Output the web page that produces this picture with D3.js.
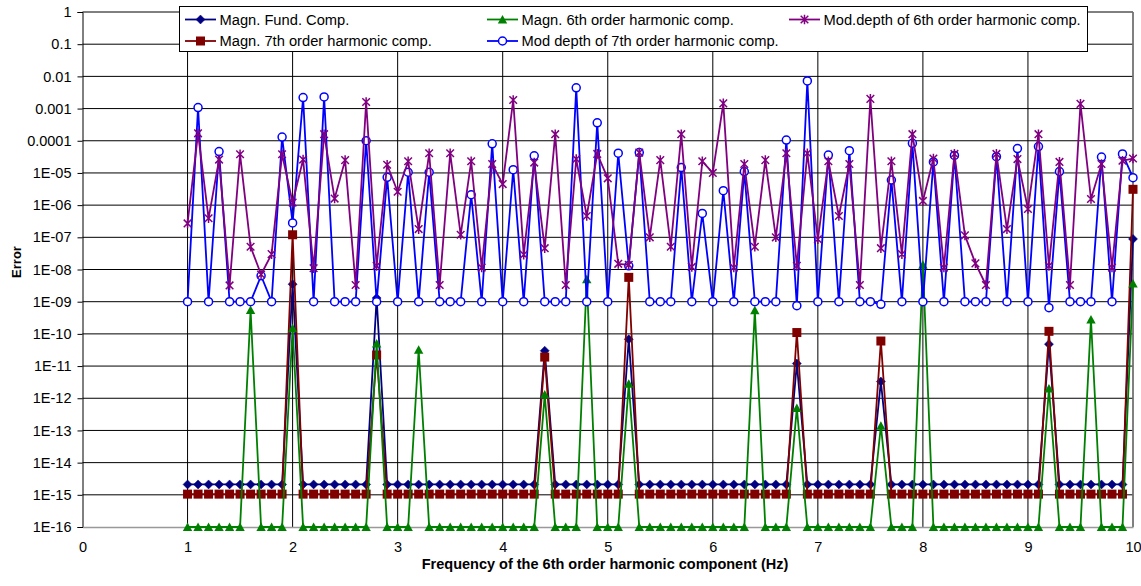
<!DOCTYPE html>
<html><head><meta charset="utf-8">
<script src="https://cdn.jsdelivr.net/npm/d3@7"></script>
<style>
body{margin:0;background:#fff}
svg{display:block;font-family:"Liberation Sans",Arial,sans-serif}
</style>
</head><body>
<svg id="chart" width="1141" height="586"></svg>
<script>
// ---------- DATA ----------
const xValues = [1.0,1.1,1.2,1.3,1.4,1.5,1.6,1.7,1.8,1.9,
 2.0,2.1,2.2,2.3,2.4,2.5,2.6,2.7,2.8,2.9,
 3.0,3.1,3.2,3.3,3.4,3.5,3.6,3.7,3.8,3.9,
 4.0,4.1,4.2,4.3,4.4,4.5,4.6,4.7,4.8,4.9,
 5.0,5.1,5.2,5.3,5.4,5.5,5.6,5.7,5.8,5.9,
 6.0,6.1,6.2,6.3,6.4,6.5,6.6,6.7,6.8,6.9,
 7.0,7.1,7.2,7.3,7.4,7.5,7.6,7.7,7.8,7.9,
 8.0,8.1,8.2,8.3,8.4,8.5,8.6,8.7,8.8,8.9,
 9.0,9.1,9.2,9.3,9.4,9.5,9.6,9.7,9.8,9.9,
 10.0];

const magnFund = [2.1e-15,2.1e-15,2.1e-15,2.1e-15,2.1e-15,2.1e-15,2.1e-15,2.1e-15,2.1e-15,2.1e-15,
 3.5e-9,2.1e-15,2.1e-15,2.1e-15,2.1e-15,2.1e-15,2.1e-15,2.1e-15,1.3e-9,2.1e-15,
 2.1e-15,2.1e-15,2.1e-15,2.1e-15,2.1e-15,2.1e-15,2.1e-15,2.1e-15,2.1e-15,2.1e-15,
 2.1e-15,2.1e-15,2.1e-15,2.1e-15,3e-11,2.1e-15,2.1e-15,2.1e-15,2.1e-15,2.1e-15,
 2.1e-15,2.1e-15,6.8e-11,2.1e-15,2.1e-15,2.1e-15,2.1e-15,2.1e-15,2.1e-15,2.1e-15,
 2.1e-15,2.1e-15,2.1e-15,2.1e-15,2.1e-15,2.1e-15,2.1e-15,2.1e-15,1.2e-11,2.1e-15,
 2.1e-15,2.1e-15,2.1e-15,2.1e-15,2.1e-15,2.1e-15,3.3e-12,2.1e-15,2.1e-15,2.1e-15,
 2.1e-15,2.1e-15,2.1e-15,2.1e-15,2.1e-15,2.1e-15,2.1e-15,2.1e-15,2.1e-15,2.1e-15,
 2.1e-15,2.1e-15,4.8e-11,2.1e-15,2.1e-15,2.1e-15,2.1e-15,2.1e-15,2.1e-15,2.1e-15,
 8.9e-8];

const magn7th = [1.05e-15,1.05e-15,1.05e-15,1.05e-15,1.05e-15,1.05e-15,1.05e-15,1.05e-15,1.05e-15,1.05e-15,
 1.2e-7,1.05e-15,1.05e-15,1.05e-15,1.05e-15,1.05e-15,1.05e-15,1.05e-15,2.2e-11,1.05e-15,
 1.05e-15,1.05e-15,1.05e-15,1.05e-15,1.05e-15,1.05e-15,1.05e-15,1.05e-15,1.05e-15,1.05e-15,
 1.05e-15,1.05e-15,1.05e-15,1.05e-15,1.9e-11,1.05e-15,1.05e-15,1.05e-15,1.05e-15,1.05e-15,
 1.05e-15,1.05e-15,5.7e-9,1.05e-15,1.05e-15,1.05e-15,1.05e-15,1.05e-15,1.05e-15,1.05e-15,
 1.05e-15,1.05e-15,1.05e-15,1.05e-15,1.05e-15,1.05e-15,1.05e-15,1.05e-15,1.1e-10,1.05e-15,
 1.05e-15,1.05e-15,1.05e-15,1.05e-15,1.05e-15,1.05e-15,6e-11,1.05e-15,1.05e-15,1.05e-15,
 1.05e-15,1.05e-15,1.05e-15,1.05e-15,1.05e-15,1.05e-15,1.05e-15,1.05e-15,1.05e-15,1.05e-15,
 1.05e-15,1.05e-15,1.2e-10,1.05e-15,1.05e-15,1.05e-15,1.05e-15,1.05e-15,1.05e-15,1.05e-15,
 3.1e-6];

const magn6th = [1e-16,1e-16,1e-16,1e-16,1e-16,1e-16,5.5e-10,1e-16,1e-16,1e-16,
 1.5e-10,1e-16,1e-16,1e-16,1e-16,1e-16,1e-16,1e-16,5e-11,1e-16,
 1e-16,1e-16,3.2e-11,1e-16,1e-16,1e-16,1e-16,1e-16,1e-16,1e-16,
 1e-16,1e-16,1e-16,1e-16,1.3e-12,1e-16,1e-16,1e-16,5e-9,1e-16,
 1e-16,1e-16,2.8e-12,1e-16,1e-16,1e-16,1e-16,1e-16,1e-16,1e-16,
 1e-16,1e-16,1e-16,1e-16,5.4e-10,1e-16,1e-16,1e-16,5e-13,1e-16,
 1e-16,1e-16,1e-16,1e-16,1e-16,1e-16,1.4e-13,1e-16,1e-16,1e-16,
 1.4e-8,1e-16,1e-16,1e-16,1e-16,1e-16,1e-16,1e-16,1e-16,1e-16,
 1e-16,1e-16,2e-12,1e-16,1e-16,1e-16,2.8e-10,1e-16,1e-16,1e-16,
 3.7e-9];

const modDepth6th = [2.7e-7,1.7e-4,3.9e-7,2.6e-5,3.2e-9,3.8e-5,5.1e-8,7e-9,3e-8,3.8e-5,
 1.2e-6,2.6e-5,1.1e-8,1.6e-4,1.6e-6,2.5e-5,3.3e-9,1.6e-3,1.3e-8,1.8e-5,
 2.6e-6,2.3e-5,1.8e-7,4.1e-5,3.3e-9,4.1e-5,1.2e-7,2.3e-5,1.15e-8,1.9e-5,
 4.5e-6,1.85e-3,2.9e-8,2.1e-5,4.6e-8,1.6e-4,3.3e-9,2.7e-5,4.6e-7,3.9e-5,
 6.8e-6,1.5e-8,1.4e-8,4.3e-5,1e-7,2.5e-5,5.1e-8,1.6e-4,1.2e-8,2.3e-5,
 1e-5,1.45e-3,1.15e-8,1.9e-5,5.1e-8,2.5e-5,1e-7,4.1e-5,1.3e-8,4.1e-5,
 8.7e-8,2.3e-5,4.6e-7,1.9e-5,3.3e-9,2e-3,4.6e-8,2.3e-5,3e-8,1.6e-4,
 1.35e-6,2.8e-5,1.15e-8,3.9e-5,1.15e-7,1.55e-8,3.3e-9,3.9e-5,1.8e-7,2.7e-5,
 7.6e-7,1.6e-4,1.3e-8,2.2e-5,3.3e-9,1.4e-3,1.55e-6,1.9e-5,1.15e-8,2.4e-5,
 2.8e-5];

const modDepth7th = [1e-9,1.07e-3,1e-9,4.6e-5,1e-9,1e-9,1e-9,6.4e-9,1e-9,1.3e-4,
 2.8e-7,2.2e-3,1e-9,2.3e-3,1e-9,1e-9,1e-9,1e-4,1e-9,7.3e-6,
 1e-9,1.05e-5,1e-9,1.05e-5,1e-9,1e-9,1e-9,2.1e-6,1e-9,8e-5,
 1e-9,1.26e-5,1e-9,3.4e-5,1e-9,1e-9,1e-9,4.4e-3,1e-9,3.6e-4,
 1e-9,4.1e-5,1.3e-8,4.3e-5,1e-9,1e-9,1e-9,1.47e-5,1e-9,5.5e-7,
 1e-9,2.8e-6,1e-9,1.1e-5,1e-9,1e-9,1e-9,1.05e-4,7.5e-10,7.2e-3,
 1e-9,3.6e-5,1e-9,4.9e-5,1e-9,1e-9,8.3e-10,6e-6,1e-9,8.3e-5,
 1e-9,2.2e-5,1e-9,3.5e-5,1e-9,1e-9,1e-9,3.2e-5,1e-9,5.7e-5,
 1e-9,6.6e-5,6.5e-10,1.1e-5,1e-9,1e-9,1e-9,3.1e-5,1e-9,3.9e-5,
 7.1e-6];

const xTicks = [0,1,2,3,4,5,6,7,8,9,10];
const yTickValues = [1,0.1,0.01,1e-3,1e-4,1e-5,1e-6,1e-7,1e-8,1e-9,1e-10,1e-11,1e-12,1e-13,1e-14,1e-15,1e-16];
const yTickLabels = ["1","0.1","0.01","0.001","0.0001","1E-05","1E-06","1E-07","1E-08","1E-09","1E-10","1E-11","1E-12","1E-13","1E-14","1E-15","1E-16"];
const seriesNames = ["Magn. Fund. Comp.","Magn. 7th order harmonic comp.","Magn. 6th order harmonic comp.","Mod depth of 7th order harmonic comp.","Mod.depth of 6th order harmonic comp."];
const xTitle = "Frequency of the 6th order harmonic component (Hz)";
const yTitle = "Error";

// ---------- CHART ----------
const svg = d3.select("#chart");
const x = d3.scaleLinear().domain([0,10]).range([82.5,1133]);
const y = d3.scaleLog().domain([1e-16,1]).range([527,12]);

const series = [
  {name:seriesNames[0], values:magnFund, color:"#000080", marker:"diamond"},
  {name:seriesNames[1], values:magn7th, color:"#800000", marker:"square"},
  {name:seriesNames[2], values:magn6th, color:"#008000", marker:"triangle"},
  {name:seriesNames[3], values:modDepth7th, color:"#0000ff", marker:"circle"},
  {name:seriesNames[4], values:modDepth6th, color:"#800080", marker:"star"}
];

// gridlines
const grid = svg.append("g");
grid.selectAll("line.h").data(yTickValues.slice(0,-1)).join("line")
  .attr("x1",x(0)).attr("x2",x(10)).attr("y1",d=>y(d)).attr("y2",d=>y(d))
  .attr("stroke","#000").attr("stroke-width",1);
grid.selectAll("line.v").data(xTicks.slice(1)).join("line")
  .attr("x1",d=>x(d)).attr("x2",d=>x(d)).attr("y1",y(1)).attr("y2",y(1e-16))
  .attr("stroke","#000").attr("stroke-width",1);
// right border
svg.append("line").attr("x1",x(10)).attr("x2",x(10)).attr("y1",y(1)).attr("y2",y(1e-16))
  .attr("stroke","#808080").attr("stroke-width",1.5);

// y axis
const yAxis = d3.axisLeft(y).tickValues(yTickValues).tickSize(5).tickPadding(6)
  .tickFormat((d,i)=>yTickLabels[i]);
const gy = svg.append("g").attr("transform",`translate(${x(0)},0)`).call(yAxis);
gy.select(".domain").attr("stroke","#000");
gy.selectAll(".tick line").attr("stroke","#000");
gy.selectAll(".tick text").attr("font-family","Liberation Sans, Arial, sans-serif")
  .attr("font-size","14.5px").attr("fill","#000");

// x axis
const xAxis = d3.axisBottom(x).tickValues(xTicks).tickSize(0).tickPadding(15);
const gx = svg.append("g").attr("transform",`translate(0,${y(1e-16)})`).call(xAxis);
gx.select(".domain").attr("stroke","#999").attr("stroke-width",1.5);
gx.selectAll(".tick text").attr("font-family","Liberation Sans, Arial, sans-serif")
  .attr("font-size","14.5px").attr("fill","#000");

// titles
svg.append("text").attr("x",605).attr("y",569).attr("text-anchor","middle")
  .attr("font-weight","bold").attr("font-size","14.5px").text(xTitle);
svg.append("text").attr("transform","translate(21,262) rotate(-90)").attr("text-anchor","middle")
  .attr("font-weight","bold").attr("font-size","13px").text(yTitle);

// markers
function drawMarker(g, type, color){
  if(type==="diamond"){
    g.append("path").attr("d","M0,-4.5L4.5,0L0,4.5L-4.5,0Z").attr("fill",color).attr("stroke",color).attr("stroke-width",0.5);
  } else if(type==="square"){
    g.append("rect").attr("x",-4.5).attr("y",-4.5).attr("width",9).attr("height",9).attr("fill",color);
  } else if(type==="triangle"){
    g.append("path").attr("d","M0,-4.5L4.7,4L-4.7,4Z").attr("fill",color);
  } else if(type==="circle"){
    g.append("circle").attr("r",4).attr("fill","#fff").attr("stroke",color).attr("stroke-width",1.5);
  } else if(type==="star"){
    g.append("path").attr("d","M-3.8,-3.8L3.8,3.8M-3.8,3.8L3.8,-3.8M0,-4.8L0,4.8").attr("stroke",color).attr("stroke-width",1.5).attr("fill","none");
  }
}

const line = d3.line().x((d,i)=>x(xValues[i])).y(d=>y(d));
series.forEach(s=>{
  const g = svg.append("g");
  g.append("path").attr("d",line(s.values)).attr("fill","none").attr("stroke",s.color).attr("stroke-width",1.8).attr("stroke-linejoin","round");
  s.values.forEach((v,i)=>{
    const m = g.append("g").attr("transform",`translate(${x(xValues[i])},${y(v)})`);
    drawMarker(m, s.marker, s.color);
  });
});

// legend
const lg = svg.append("g");
lg.append("rect").attr("x",179.5).attr("y",6.5).attr("width",908).attr("height",45)
  .attr("fill","#fff").attr("stroke","#000").attr("stroke-width",1);
const legendPos = [[185,19.5],[185,41],[487,19.5],[487,41],[789,19.5]];
series.forEach((s,i)=>{
  const [lx,ly] = legendPos[i];
  const e = lg.append("g").attr("transform",`translate(${lx},${ly})`);
  e.append("line").attr("x1",0).attr("x2",31).attr("y1",0).attr("y2",0).attr("stroke",s.color).attr("stroke-width",1.8);
  drawMarker(e.append("g").attr("transform","translate(15.5,0)"), s.marker, s.color);
  e.append("text").attr("x",34.5).attr("y",5.3).attr("font-size","14.7px").attr("fill","#000").text(s.name);
});
</script>
</body></html>
